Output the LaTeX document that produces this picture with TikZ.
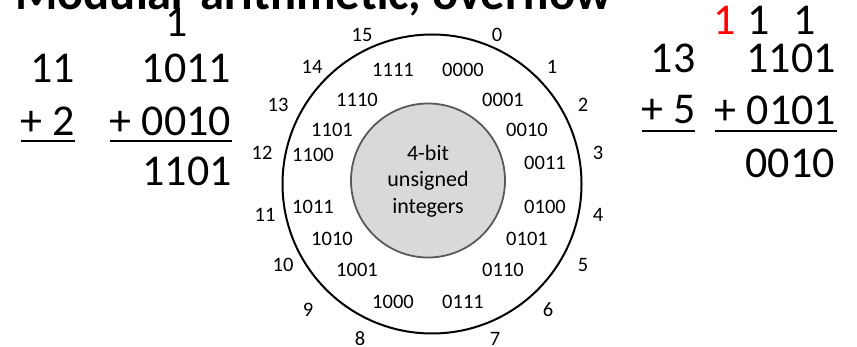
\documentclass[tikz,border=0pt]{standalone}
\usepackage{fontspec}
\setmainfont{Carlito}
\begin{document}
\begin{tikzpicture}[x=1pt,y=-1pt,
  big/.style={font=\fontsize{44}{50}\selectfont, inner sep=0pt},
  small/.style={font=\fontsize{20.5}{26.5}\selectfont, inner sep=0pt},
  coretxt/.style={font=\fontsize{22}{26.5}\selectfont, inner sep=0pt},
  uline/.style={line width=2.2pt},
  ring/.style={line width=2pt, draw=black},
  core/.style={circle, line width=1.8pt, draw=black!65, fill=black!15, minimum size=154pt, inner sep=0pt}]
\useasboundingbox (0,0) rectangle (857,347);
% title (cut off at top)
\node[anchor=base west, font=\bfseries\fontsize{48.6}{52}\selectfont, inner sep=0pt] (title) at (15,10) {Modular arithmetic, overflow};
% left sum
\node[big] (lc) at (177,22.5) {1};
\node[big] (la) at (52.5,68) {11};
\node[big] (lab) at (186.5,68) {1011};
\node[big] (lb) at (47.5,121) {+ 2};
\node[big] (lbb) at (170.5,121) {+ 0010};
\node[big] (lr) at (187,171.5) {1101};
\draw[uline] (21,141) -- (75,141);
\draw[uline] (110,141) -- (232,141);
% right sum
\node[big, text=red] (rc1) at (725,20) {1};
\node[big] (rc2) at (758.5,20) {1};
\node[big] (rc3) at (805,20) {1};
\node[big] (ra) at (673,58.5) {13};
\node[big] (rab) at (791,58.5) {1101};
\node[big] (rb) at (668.5,110) {+ 5};
\node[big] (rbb) at (775.5,110) {+ 0101};
\node[big] (rr) at (790,163.5) {0010};
\draw[uline] (642,131) -- (695,131);
\draw[uline] (715,131) -- (837,131);
% wheel
\draw[ring] (432,184) circle (149.5);
\node[core] (core) at (428,180.5) {};
\node[coretxt, align=center] (coretext) at (428,181) {4-bit\\unsigned\\integers};
% binary labels
\foreach \t/\x/\y/\n in {0000/463/70/b0, 0001/503/100/b1, 0010/527/130/b2, 0011/545/163/b3,
  0100/545/207/b4, 0101/527/239/b5, 0110/503/270/b6, 0111/463/302/b7,
  1000/393/302/b8, 1001/357/270/b9, 1010/332/239/b10, 1011/313/207/b11,
  1100/313/155/b12, 1101/332/130/b13, 1110/357/100/b14, 1111/393/70/b15}
  \node[small] (\n) at (\x,\y) {\t};
% decimal labels
\foreach \t/\x/\y in {0/497/35, 1/552/67, 2/583/105, 3/598/153, 4/598/215, 5/583/265,
  6/548/310, 7/495/339, 8/360/339, 9/308/310, 10/283/265, 11/265/215, 12/262/153,
  13/278/105, 14/312/67, 15/362/35}
  \node[small] (d\t) at (\x,\y) {\t};
\end{tikzpicture}
\end{document}
